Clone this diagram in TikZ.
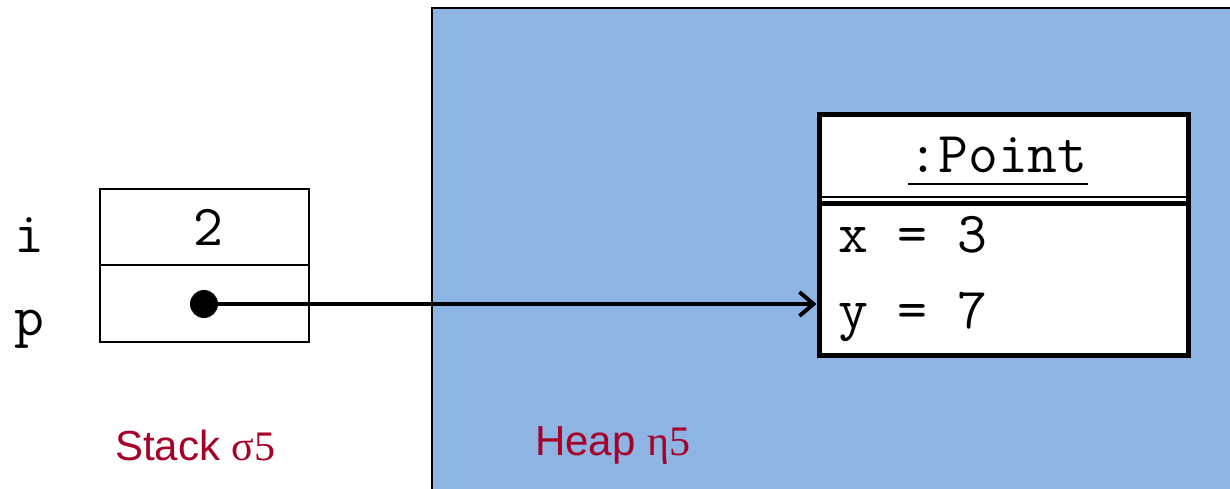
\documentclass[tikz,border=0pt]{standalone}
\usepackage{fontspec}
\setmainfont{Liberation Sans}
\newfontfamily\greekfont{Liberation Serif}
\usetikzlibrary{arrows.meta}
\definecolor{heapblue}{RGB}{142,180,227}
\definecolor{labelred}{RGB}{166,0,40}
\tikzset{
  code/.style={inner sep=0pt,font=\ttfamily\fontsize{58}{66}\selectfont},
  area label/.style={inner sep=0pt,anchor=base west,text=labelred,font=\fontsize{42}{50}\selectfont},
  cell/.style={draw,line width=1.2pt,minimum width=209pt,inner sep=0pt},
}
\begin{document}
\begin{tikzpicture}[line cap=butt,line join=miter,x=1pt,y=-1pt]
\useasboundingbox (0,0) rectangle (1230,489);
% heap area
\draw [line width=1.2pt,fill=heapblue] (432,8) rectangle (1234,493);
% stack frame
\node[cell,minimum height=76pt] (icell) at (204.5,227) {};
\node[cell,minimum height=77pt] (pcell) at (204.5,303.5) {};
\node[code,anchor=base] (ival) at (208,245) {2};
\node[code,anchor=base] (iname) at (29,252) {i};
\node[code,anchor=base] (pname) at (29,335) {p};
\node[circle,fill=black,minimum size=28pt,inner sep=0pt] (dot) at (204,304) {};
% object in the heap
\node[draw,line width=5pt,fill=white,minimum width=369pt,minimum height=240pt,inner sep=0pt] (obj) at (1003.5,235) {};
\draw [line width=1.5pt] (819,197)-- (1188,197);
\draw [line width=5pt] (819,203)-- (1188,203);
\node[code,anchor=base] (title) at (998,172) {:Point};
\draw [line width=1.8pt] ([yshift=-12pt]title.base west)-- ([yshift=-12pt]title.base east);
\node[code,anchor=base west] (xval) at (838,252) {x = 3};
\node[code,anchor=base west] (yval) at (838,328) {y = 7};
% reference
\draw [line width=4pt,-{Straight Barb[length=14pt,width=24pt,line width=4pt]}] (dot.center)-- (dot.center -| obj.west);
\node[area label] (stacklbl) at (115,460) {Stack {\greekfont σ5}};
\node[area label] (heaplbl) at (535,455) {Heap {\greekfont η5}};
\end{tikzpicture}
\end{document}
